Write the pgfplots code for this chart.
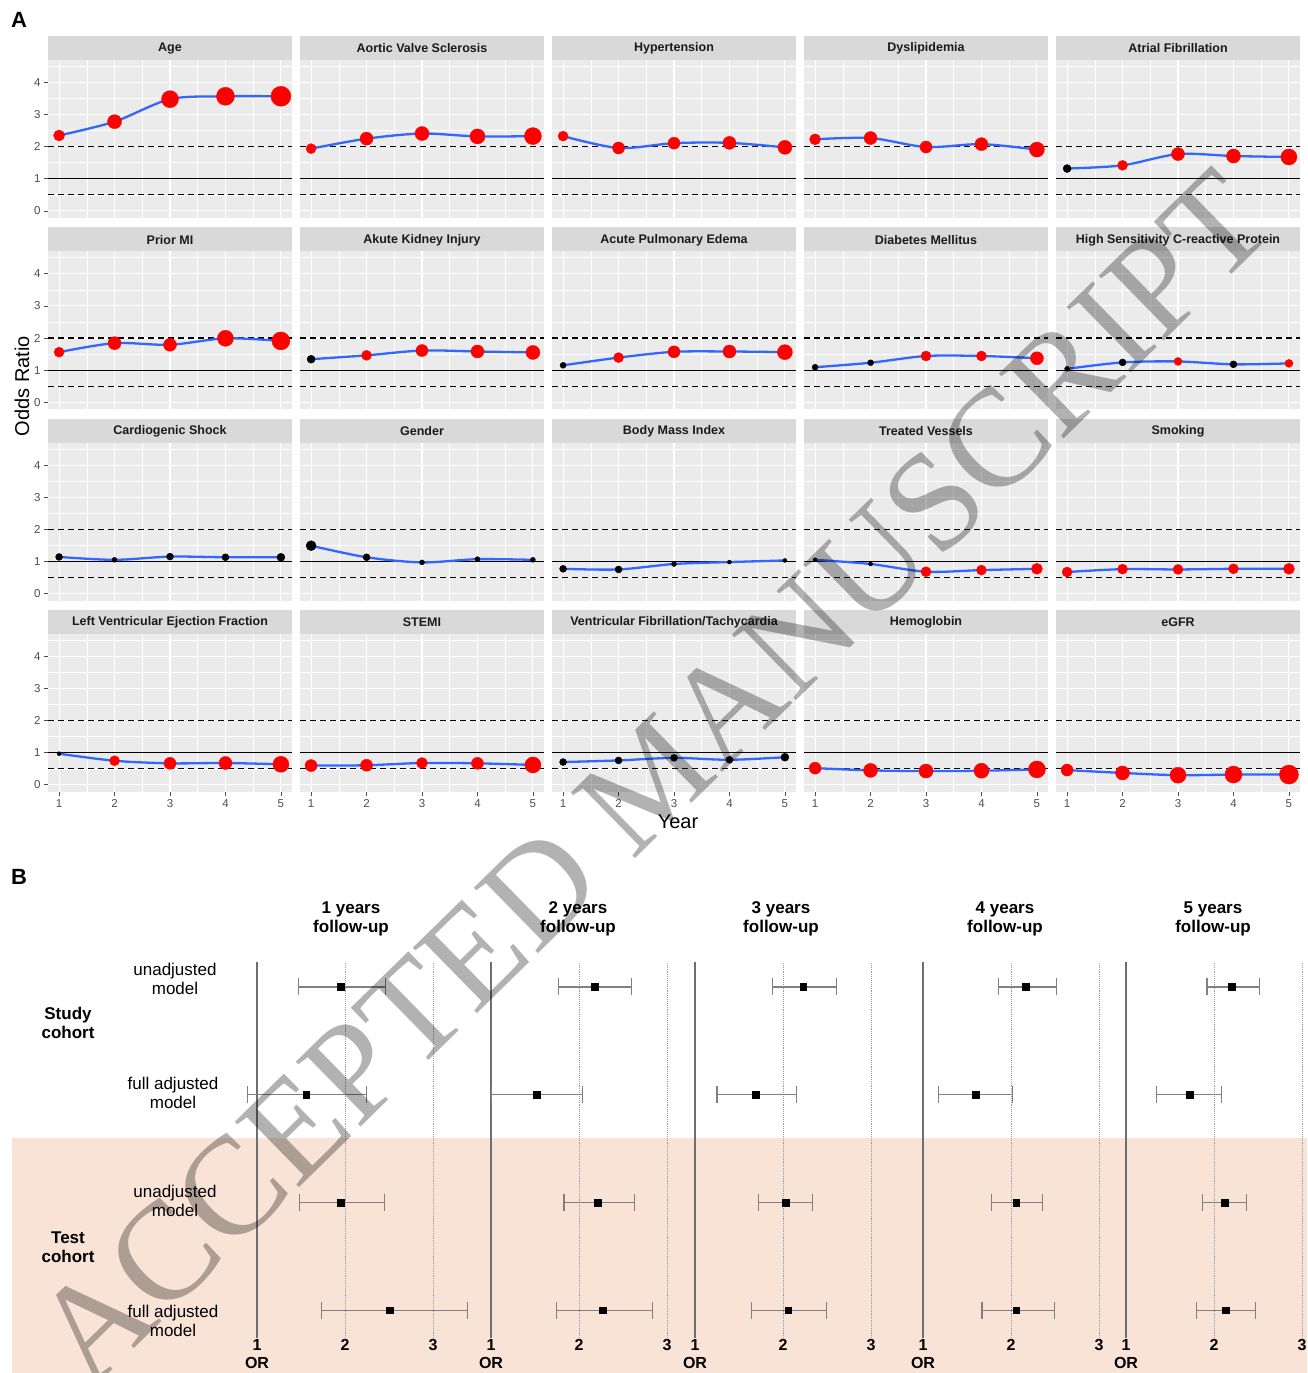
\documentclass[border=0pt]{standalone}
\usepackage{fontspec}
\setmainfont{Liberation Sans}
\newfontfamily\wmfont{Liberation Serif}
\usepackage{pgfplots}
\usepackage{pgfplotstable}
\pgfplotsset{compat=1.18}

\definecolor{panelbg}{HTML}{EBEBEB}
\definecolor{stripbg}{HTML}{D9D9D9}
\definecolor{stripfg}{HTML}{1A1A1A}
\definecolor{tickfg}{HTML}{4D4D4D}
\definecolor{fitblue}{HTML}{3366FF}
\definecolor{ptred}{HTML}{FF0000}
\definecolor{peach}{HTML}{F9E3D6}
\definecolor{cigray}{HTML}{808080}
\definecolor{refgray}{HTML}{6E6E6E}
\definecolor{dotgray}{HTML}{9A9A9A}

\newcommand{\striplabel}{\fontsize{12.5}{14}\selectfont\bfseries}
\newcommand{\headfont}{\fontsize{17}{19}\selectfont\bfseries}
\newcommand{\rowfont}{\fontsize{17}{19}\selectfont}

% ---------- Panel A: odds ratio per year (x, OR, marker radius, class r=red/k=black)
\pgfplotstableread{
x y r c
1 2.35 5.5 r
2 2.78 7 r
3 3.48 8.5 r
4 3.57 9 r
5 3.57 10 r
}\tAge
\pgfplotstableread{
x y r c
1 1.94 5 r
2 2.25 6.5 r
3 2.41 7 r
4 2.32 7.5 r
5 2.33 8.5 r
}\tAVS
\pgfplotstableread{
x y r c
1 2.33 5 r
2 1.96 6 r
3 2.11 6 r
4 2.12 6.5 r
5 1.98 7 r
}\tHT
\pgfplotstableread{
x y r c
1 2.23 5.5 r
2 2.27 6.5 r
3 1.99 6 r
4 2.08 6.5 r
5 1.91 7.5 r
}\tDL
\pgfplotstableread{
x y r c
1 1.32 4 k
2 1.42 5 r
3 1.77 6.5 r
4 1.71 7 r
5 1.68 8 r
}\tAF
\pgfplotstableread{
x y r c
1 1.56 5 r
2 1.84 6.5 r
3 1.79 6.5 r
4 1.99 8 r
5 1.91 9 r
}\tPMI
\pgfplotstableread{
x y r c
1 1.34 4 k
2 1.46 5 r
3 1.61 6 r
4 1.58 6.5 r
5 1.55 7 r
}\tAKI
\pgfplotstableread{
x y r c
1 1.15 3 k
2 1.39 5 r
3 1.57 6 r
4 1.58 6.5 r
5 1.56 7.5 r
}\tAPE
\pgfplotstableread{
x y r c
1 1.09 3 k
2 1.23 3 k
3 1.44 5 r
4 1.44 5 r
5 1.37 6.5 r
}\tDM
\pgfplotstableread{
x y r c
1 1.04 2.5 k
2 1.24 3.5 k
3 1.27 4 r
4 1.18 3.5 k
5 1.21 4 r
}\tCRP
\pgfplotstableread{
x y r c
1 1.14 3.5 k
2 1.05 2.5 k
3 1.15 3.5 k
4 1.13 3.5 k
5 1.13 4 k
}\tCS
\pgfplotstableread{
x y r c
1 1.49 5 k
2 1.13 3.5 k
3 0.97 2.5 k
4 1.07 2.5 k
5 1.05 2.5 k
}\tGen
\pgfplotstableread{
x y r c
1 0.77 3.5 k
2 0.75 3.5 k
3 0.92 2.5 k
4 0.98 2 k
5 1.03 2 k
}\tBMI
\pgfplotstableread{
x y r c
1 1.05 2 k
2 0.92 2 k
3 0.68 5 r
4 0.73 5 r
5 0.77 5.5 r
}\tTV
\pgfplotstableread{
x y r c
1 0.67 5 r
2 0.76 5 r
3 0.75 5 r
4 0.77 5 r
5 0.77 5.5 r
}\tSmk
\pgfplotstableread{
x y r c
1 0.97 2 k
2 0.75 5 r
3 0.67 6 r
4 0.68 6.5 r
5 0.64 8 r
}\tLVEF
\pgfplotstableread{
x y r c
1 0.60 6 r
2 0.61 6 r
3 0.68 5.5 r
4 0.67 6 r
5 0.62 8 r
}\tSTEMI
\pgfplotstableread{
x y r c
1 0.71 3.5 k
2 0.76 3.5 k
3 0.84 3.5 k
4 0.78 3.5 k
5 0.86 4 k
}\tVF
\pgfplotstableread{
x y r c
1 0.52 6 r
2 0.45 7 r
3 0.43 7 r
4 0.44 7.5 r
5 0.48 8.5 r
}\tHb
\pgfplotstableread{
x y r c
1 0.46 6 r
2 0.37 7 r
3 0.30 8 r
4 0.32 8.5 r
5 0.32 9.5 r
}\tGFR

% ---------- Panel B: OR with 95% CI (row 4/3 = study cohort, 2/1 = test cohort)
\pgfplotstableread{
y x lo hi
4 1.95 1.47 2.46
3 1.56 0.89 2.24
2 1.95 1.48 2.45
1 2.51 1.73 3.39
}\fOne
\pgfplotstableread{
y x lo hi
4 2.18 1.77 2.60
3 1.52 1.01 2.04
2 2.21 1.83 2.63
1 2.27 1.74 2.84
}\fTwo
\pgfplotstableread{
y x lo hi
4 2.23 1.88 2.61
3 1.69 1.25 2.15
2 2.03 1.72 2.34
1 2.06 1.64 2.49
}\fThree
\pgfplotstableread{
y x lo hi
4 2.17 1.86 2.52
3 1.60 1.18 2.02
2 2.06 1.78 2.36
1 2.06 1.67 2.49
}\fFour
\pgfplotstableread{
y x lo hi
4 2.20 1.92 2.52
3 1.72 1.35 2.09
2 2.12 1.87 2.37
1 2.13 1.80 2.47
}\fFive

\pgfplotsset{
  /pgf/number format/assume math mode=true,
  facet/.style={
    scale only axis, width=244pt, height=158pt,
    xmin=0.8, xmax=5.2, ymin=-0.22, ymax=4.7,
    axis background/.style={fill=panelbg},
    axis line style={draw=none},
    xtick={1,2,3,4,5}, ytick={0,1,2,3,4},
    minor xtick={1.5,2.5,3.5,4.5},
    minor ytick={0.5,1.5,2.5,3.5,4.5},
    grid=both,
    major grid style={white, line width=1.1pt},
    minor grid style={white, line width=0.55pt},
    xticklabels={}, yticklabels={},
    xtick style={draw=none}, ytick style={draw=none},
    minor tick length=0pt, major tick length=4pt,
    tick align=outside, tick pos=left,
    tick label style={font=\fontsize{11.5}{12}\selectfont, text=tickfg},
  },
  ylab/.style={yticklabels={0,1,2,3,4}, ytick style={draw=tickfg, line width=0.7pt}},
  xlab/.style={xticklabels={1,2,3,4,5}, xtick style={draw=tickfg, line width=0.7pt}},
  refline/.style={black, line width=1.2pt},
  ciaxis/.style={
    scale only axis, width=202.4pt, height=375.9pt,
    xmin=0.75, xmax=3.05, ymin=0.74, ymax=4.23,
    axis line style={draw=none}, ytick=\empty,
    xtick={1,2,3}, xticklabels={1,2,3},
    major tick length=0pt, xtick style={draw=none},
    xticklabel style={font=\fontsize{16}{16}\selectfont\bfseries, inner sep=1.5pt},
    clip=false,
  },
}

% one facet: column, row, strip title, table, extra axis keys
\newcommand{\facet}[5]{%
  \pgfmathsetmacro{\fx}{48+252*#1}%
  \pgfmathsetmacro{\fy}{36+191.3*#2}%
  \fill[stripbg] (\fx pt,-\fy pt) rectangle ++(244pt,-24pt);
  \node[font=\striplabel, text=stripfg, inner sep=0pt] at (\fx pt+122pt,-\fy pt-12.5pt) {#3};
  \begin{axis}[facet, at={(\fx pt,-\fy pt-24pt)}, anchor=north west, #5]
    \addplot[refline, dash pattern=on 6pt off 4pt] coordinates {(0.8,2) (5.2,2)};
    \addplot[refline, dash pattern=on 6pt off 4pt] coordinates {(0.8,0.5) (5.2,0.5)};
    \addplot[refline] coordinates {(0.8,1) (5.2,1)};
    \addplot[scatter, only marks, mark=*, scatter src=explicit symbolic,
      scatter/classes={r={draw=ptred,fill=ptred}, k={draw=black,fill=black}},
      visualization depends on={\thisrow{r} \as \rad},
      scatter/@pre marker code/.append style={/tikz/mark size=\rad}]
      table[x=x, y=y, meta=c] {#4};
    \addplot[fitblue, line width=2.3pt, smooth, tension=0.5] table[x=x, y=y] {#4};
  \end{axis}%
}

% one forest column: x position of OR=1, table, header centre x, years
\newcommand{\ciplot}[4]{%
  \begin{axis}[ciaxis, at={(#1pt-22pt,-962.2pt)}, anchor=north west]
    \addplot[refgray, line width=1.2pt] coordinates {(1,0.74) (1,4.23)};
    \addplot[dotgray, line width=0.9pt, densely dotted] coordinates {(2,0.74) (2,4.23)};
    \addplot[dotgray, line width=0.9pt, densely dotted] coordinates {(3,0.74) (3,4.23)};
    \addplot[only marks, mark=square*, mark size=3.4pt, black,
      error bars/.cd, x dir=both, x explicit,
      error bar style={cigray, line width=1.2pt},
      error mark options={rotate=90, mark size=8.5pt, cigray, line width=1.1pt}]
      table[x=x, y=y, x error plus expr=\thisrow{hi}-\thisrow{x},
            x error minus expr=\thisrow{x}-\thisrow{lo}] {#2};
    \node[font=\fontsize{16}{16}\selectfont\bfseries, anchor=north, inner sep=0pt]
      at (axis cs:1,0.74) [yshift=-19pt] {OR};
  \end{axis}%
  \node[font=\headfont, align=center] at (#3pt,-918.5pt) {#4 years\\follow-up};
}

\begin{document}
\begin{tikzpicture}
\useasboundingbox (0pt,0pt) rectangle (1307pt,-1373pt);

% ===== Panel A =====
\node[font=\fontsize{22}{22}\selectfont\bfseries] at (19pt,-20pt) {A};
\facet{0}{0}{Age}{\tAge}{ylab}
\facet{1}{0}{Aortic Valve Sclerosis}{\tAVS}{}
\facet{2}{0}{Hypertension}{\tHT}{}
\facet{3}{0}{Dyslipidemia}{\tDL}{}
\facet{4}{0}{Atrial Fibrillation}{\tAF}{}
\facet{0}{1}{Prior MI}{\tPMI}{ylab}
\facet{1}{1}{Akute Kidney Injury}{\tAKI}{}
\facet{2}{1}{Acute Pulmonary Edema}{\tAPE}{}
\facet{3}{1}{Diabetes Mellitus}{\tDM}{}
\facet{4}{1}{High Sensitivity C-reactive Protein}{\tCRP}{}
\facet{0}{2}{Cardiogenic Shock}{\tCS}{ylab}
\facet{1}{2}{Gender}{\tGen}{}
\facet{2}{2}{Body Mass Index}{\tBMI}{}
\facet{3}{2}{Treated Vessels}{\tTV}{}
\facet{4}{2}{Smoking}{\tSmk}{}
\facet{0}{3}{Left Ventricular Ejection Fraction}{\tLVEF}{ylab,xlab}
\facet{1}{3}{STEMI}{\tSTEMI}{xlab}
\facet{2}{3}{Ventricular Fibrillation/Tachycardia}{\tVF}{xlab}
\facet{3}{3}{Hemoglobin}{\tHb}{xlab}
\facet{4}{3}{eGFR}{\tGFR}{xlab}
\node[rotate=90, font=\fontsize{20}{20}\selectfont] at (22pt,-386pt) {Odds Ratio};
\node[font=\fontsize{20}{20}\selectfont] at (678pt,-822pt) {Year};

% ===== Panel B =====
\node[font=\fontsize{22}{22}\selectfont\bfseries] at (19pt,-877pt) {B};
\fill[peach] (12pt,-1138pt) rectangle (1307pt,-1373pt);
\ciplot{257}{\fOne}{351}{1}
\ciplot{491}{\fTwo}{578}{2}
\ciplot{695}{\fThree}{781}{3}
\ciplot{923}{\fFour}{1005}{4}
\ciplot{1126}{\fFive}{1213}{5}
\node[font=\rowfont, align=center] at (175pt,-978.5pt) {unadjusted\\model};
\node[font=\rowfont, align=center] at (173pt,-1093pt) {full adjusted\\model};
\node[font=\rowfont, align=center] at (175pt,-1201pt) {unadjusted\\model};
\node[font=\rowfont, align=center] at (173pt,-1321pt) {full adjusted\\model};
\node[font=\headfont, align=center] at (68pt,-1022.5pt) {Study\\cohort};
\node[font=\headfont, align=center] at (68pt,-1247.5pt) {Test\\cohort};

% ===== diagonal watermark =====
\node[rotate=44.4, font=\wmfont\fontsize{140}{140}\selectfont, text=black, text opacity=0.3]
  at (652pt,-778pt) {ACCEPTED MANUSCRIPT};
\end{tikzpicture}
\end{document}
